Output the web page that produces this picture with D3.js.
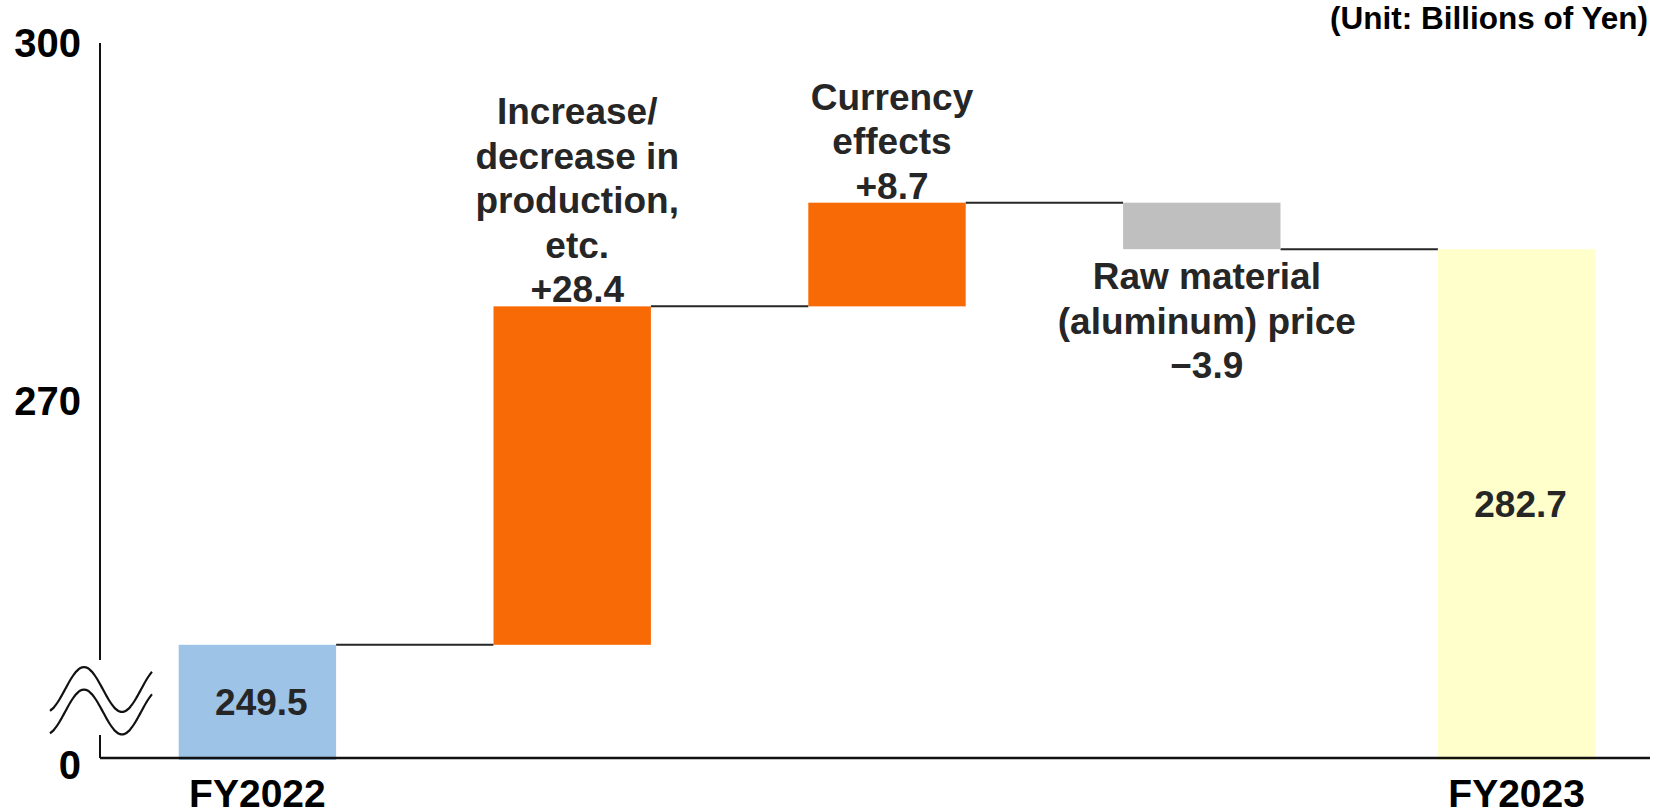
<!DOCTYPE html>
<html>
<head>
<meta charset="utf-8">
<script src="https://cdn.jsdelivr.net/npm/d3@7"></script>
<style>
  body { margin: 0; background: #fff; }
  text { font-family: "Liberation Sans", Arial, sans-serif; font-weight: bold; }
</style>
</head>
<body>
<div id="chart"></div>
<script>
// chart data
const categories = ["FY2022", "Production", "Currency", "Aluminum", "FY2023"];
const values = [249.5, 28.4, 8.7, -3.9, 282.7];
const kinds = ["total", "delta", "delta", "delta", "total"];
const barColors = ["#9DC3E6", "#F76A05", "#F76A05", "#BFBFBF", "#FFFFCC"];
const labelLines = [
  [],
  ["Increase/", "decrease in", "production,", "etc.", "+28.4"],
  ["Currency", "effects", "+8.7"],
  ["Raw material", "(aluminum) price", "\u22123.9"],
  []
];
const valueLabels = ["249.5", "", "", "", "282.7"];
const axisLabels = ["FY2022", "", "", "", "FY2023"];
const yTicks = [240, 270, 300];
const yTickLabels = ["0", "270", "300"];
const unitLabel = "(Unit: Billions of Yen)";

const width = 1667, height = 810;
const axisX = 100, axisTop = 43, baseY = 758;

const svg = d3.select("#chart")
    .append("svg")
    .attr("width", width)
    .attr("height", height);

// scales
const x = d3.scaleBand()
    .domain(categories)
    .range([axisX, 1674])
    .paddingInner(0.5)
    .paddingOuter(0.25);

const y = d3.scaleLinear()
    .domain([240, 300])
    .range([baseY, axisTop]);

// running totals for the waterfall
let running = 0;
const bars = categories.map((c, i) => {
  let start, end;
  if (kinds[i] === "total") {
    start = 240; end = values[i]; running = values[i];
  } else {
    start = running; end = running + values[i]; running = end;
  }
  return { cat: c, start: start, end: end, level: kinds[i] === "total" ? values[i] : end, i: i };
});

// connectors
for (let i = 0; i < bars.length - 1; i++) {
  svg.append("line")
      .attr("x1", x(bars[i].cat) + x.bandwidth())
      .attr("x2", x(bars[i + 1].cat))
      .attr("y1", y(bars[i].level))
      .attr("y2", y(bars[i].level))
      .attr("stroke", "#262626")
      .attr("stroke-width", 2);
}

// bars
svg.selectAll("rect.bar")
    .data(bars)
    .enter()
    .append("rect")
    .attr("class", "bar")
    .attr("x", d => x(d.cat))
    .attr("width", x.bandwidth())
    .attr("y", d => y(Math.max(d.start, d.end)))
    .attr("height", d => Math.abs(y(d.start) - y(d.end)) + (d.start === 240 ? 2 : 0))
    .attr("fill", d => barColors[d.i]);

// y axis (ticks only, line drawn by hand because of the break)
const yAxis = svg.append("g")
    .attr("transform", `translate(${axisX},0)`)
    .call(d3.axisLeft(y).tickValues(yTicks).tickSize(0).tickPadding(19)
        .tickFormat((d, i) => yTickLabels[i]));
yAxis.select(".domain").remove();
yAxis.selectAll("text")
    .attr("fill", "#000")
    .style("font-size", "40px")
    .attr("dy", (d, i) => i === 0 ? "0.5em" : "0.34em");

// x axis labels
const xAxis = svg.append("g")
    .attr("transform", `translate(0,${baseY})`)
    .call(d3.axisBottom(x).tickSize(0).tickPadding(21)
        .tickFormat((d, i) => axisLabels[i]));
xAxis.select(".domain").remove();
xAxis.selectAll("text")
    .attr("fill", "#000")
    .style("font-size", "39px");

// axis lines
svg.append("line")
    .attr("x1", axisX).attr("x2", 1650)
    .attr("y1", baseY).attr("y2", baseY)
    .attr("stroke", "#111").attr("stroke-width", 2.5);
svg.append("line")
    .attr("x1", axisX).attr("x2", axisX)
    .attr("y1", axisTop).attr("y2", 660)
    .attr("stroke", "#111").attr("stroke-width", 2);
svg.append("line")
    .attr("x1", axisX).attr("x2", axisX)
    .attr("y1", 735).attr("y2", baseY)
    .attr("stroke", "#111").attr("stroke-width", 2);

// axis break waves
const wave = d3.line().curve(d3.curveBasis);
[689.5, 712].forEach(cy => {
  const pts = d3.range(50, 154, 2).map(px => [px, cy - 22.5 * Math.cos(2 * Math.PI * (px - 84) / 76)]);
  svg.append("path")
      .attr("d", wave(pts))
      .attr("fill", "none")
      .attr("stroke", "#111")
      .attr("stroke-width", 2.2);
});

// delta labels
const lineH = 44.5;
bars.forEach(d => {
  const lines = labelLines[d.i];
  if (!lines.length) return;
  const cx = x(d.cat) + x.bandwidth() / 2 + 5;
  let firstBase;
  if (values[d.i] >= 0) {
    firstBase = y(d.end) - 4 - (lines.length - 1) * lineH;
  } else {
    firstBase = y(d.end) + 40;
  }
  const t = svg.append("text")
      .attr("text-anchor", "middle")
      .attr("fill", "#262626")
      .style("font-size", "37px");
  lines.forEach((l, k) => {
    t.append("tspan")
        .attr("x", cx)
        .attr("y", firstBase + k * lineH)
        .text(l);
  });
});

// value labels inside total bars
bars.forEach(d => {
  if (!valueLabels[d.i]) return;
  svg.append("text")
      .attr("x", x(d.cat) + x.bandwidth() / 2 + 4)
      .attr("y", (y(d.end) + y(d.start)) / 2)
      .attr("dy", "0.36em")
      .attr("text-anchor", "middle")
      .attr("fill", "#262626")
      .style("font-size", "37px")
      .text(valueLabels[d.i]);
});

// unit
svg.append("text")
    .attr("x", 1648)
    .attr("y", 29)
    .attr("text-anchor", "end")
    .attr("fill", "#000")
    .style("font-size", "31.5px")
    .text(unitLabel);
</script>
</body>
</html>
